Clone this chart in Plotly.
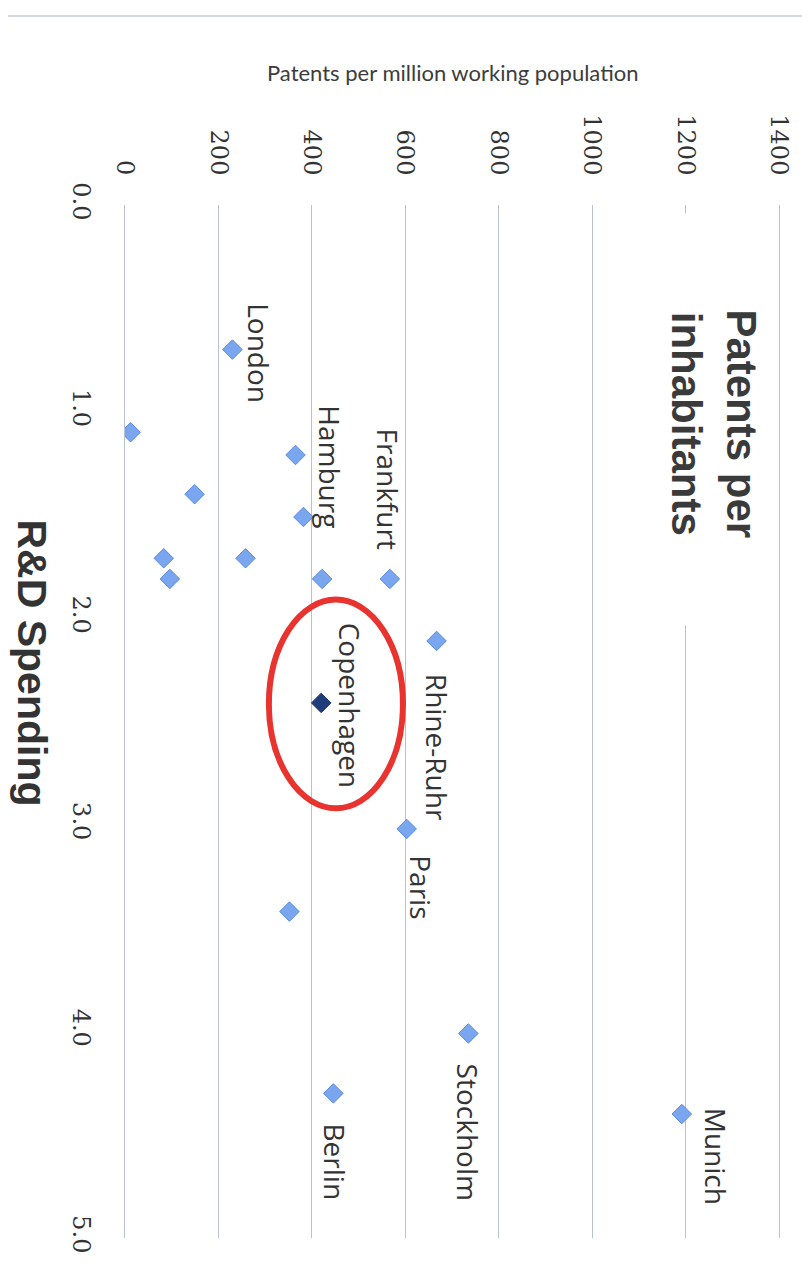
import plotly.graph_objects as go

# ---- data ----
cities = ["London", "", "", "", "", "", "", "", "Hamburg", "Frankfurt",
          "Rhine-Ruhr", "Copenhagen", "Paris", "", "Stockholm", "Berlin", "Munich"]
rd_spending = [0.70, 1.10, 1.21, 1.40, 1.51, 1.71, 1.71, 1.81, 1.81, 1.81,
               2.11, 2.41, 3.02, 3.42, 4.01, 4.30, 4.40]
patents = [230, 12, 365, 149, 382, 258, 83, 96, 422, 567,
           667, 420, 603, 352, 735, 446, 1192]
patent_ticks = [0, 200, 400, 600, 800, 1000, 1200, 1400]
rd_ticks = [0, 1, 2, 3, 4, 5]
rd_ticktext = ["0.0", "1.0", "2.0", "3.0", "4.0", "5.0"]
highlight = "Copenhagen"

# label placement (screen px, rotated layout): (xanchor, yanchor, xshift, yshift)
label_pos = {
    "London": ("center", "middle", 27, -4),
    "Hamburg": ("center", "bottom", 7, 49),
    "Frankfurt": ("center", "bottom", -2, 27),
    "Rhine-Ruhr": ("center", "top", 0, -31),
    "Copenhagen": ("center", "middle", 29, -2),
    "Paris": ("center", "top", 14, -24),
    "Stockholm": ("center", "top", 0, -28),
    "Berlin": ("center", "top", 2, -28),
    "Munich": ("center", "top", 35, 8),
}

GRID = "#b7c1d3"
TXT = "#333333"

colors = ["#1f3d7a" if c == highlight else "#79a6ee" for c in cities]
lines = ["#1a3468" if c == highlight else "#5b8be0" for c in cities]

fig = go.Figure()
fig.add_trace(go.Scatter(
    x=patents, y=rd_spending, mode="markers",
    marker=dict(symbol="diamond", size=15, color=colors,
                line=dict(color=lines, width=1)),
    hoverinfo="skip", showlegend=False,
))

annotations = []
for c, p, r in zip(cities, patents, rd_spending):
    if not c:
        continue
    xa, ya, xs, ys = label_pos[c]
    annotations.append(dict(
        x=p, y=r, xref="x", yref="y", text=c, showarrow=False,
        textangle=90, xanchor=xa, yanchor=ya, xshift=xs, yshift=ys,
        font=dict(family="Open Sans", size=28, color=TXT),
    ))

# axis / chart titles (rotated layout)
annotations.append(dict(
    x=0.5, y=1.128, xref="paper", yref="paper", showarrow=False,
    text="Patents per million working population",
    font=dict(family="Lato", size=22, color="#3c3c3c"),
    xanchor="center", yanchor="middle",
))
annotations.append(dict(
    x=-0.142, y=0.557, xref="paper", yref="paper", showarrow=False,
    text="<b>R&D Spending</b>", textangle=90,
    font=dict(family="Liberation Sans", size=41, color="#333333"),
    xanchor="center", yanchor="middle",
))
annotations.append(dict(
    x=0.900, y=0.788, xref="paper", yref="paper", showarrow=False,
    text="<b>Patents per<br>inhabitants</b>", textangle=90,
    font=dict(family="Liberation Sans", size=42, color="#3a3a3a"),
    xanchor="center", yanchor="middle",
))

# highlight ellipse around the highlighted city
hi = cities.index(highlight)
hp, hr = patents[hi], rd_spending[hi]
shapes = [
    dict(type="rect", xref="paper", yref="paper", x0=0.80, x1=0.975,
         y0=0.593, y1=0.992, fillcolor="white", line=dict(width=0), layer="above"),
    dict(type="circle", xref="x", yref="y", x0=hp - 112, x1=hp + 175,
         y0=hr - 0.50, y1=hr + 0.51, line=dict(color="#e8332e", width=6),
         layer="above"),
    # outer frame (top and right)
    dict(type="line", xref="paper", yref="paper", x0=-0.2, x1=1.037,
         y0=1.183, y1=1.183, line=dict(color="#c9ced6", width=1.5)),
    dict(type="line", xref="paper", yref="paper", x0=1.037, x1=1.037,
         y0=1.183, y1=-0.05, line=dict(color="#c9ced6", width=1.5)),
]

fig.update_layout(
    width=802, height=1269,
    margin=dict(l=117, r=31, t=197, b=39),
    paper_bgcolor="white", plot_bgcolor="white",
    annotations=annotations, shapes=shapes,
    xaxis=dict(
        range=[0, 1400], side="top", tickvals=patent_ticks, tickangle=90,
        tickfont=dict(family="DejaVu Serif", size=24, color="#333333"),
        showgrid=True, gridcolor=GRID, gridwidth=1, zeroline=False,
        showline=False, ticks="", ticklabelstandoff=25, fixedrange=True,
    ),
    yaxis=dict(
        range=[5, 0], tickvals=rd_ticks, ticktext=rd_ticktext, tickangle=90,
        tickfont=dict(family="DejaVu Serif", size=24, color="#333333"),
        showgrid=False, zeroline=False, showline=True, linecolor=GRID,
        linewidth=1, mirror=True, ticks="", ticklabelstandoff=22,
        fixedrange=True,
    ),
)

fig.write_html("out.html")
